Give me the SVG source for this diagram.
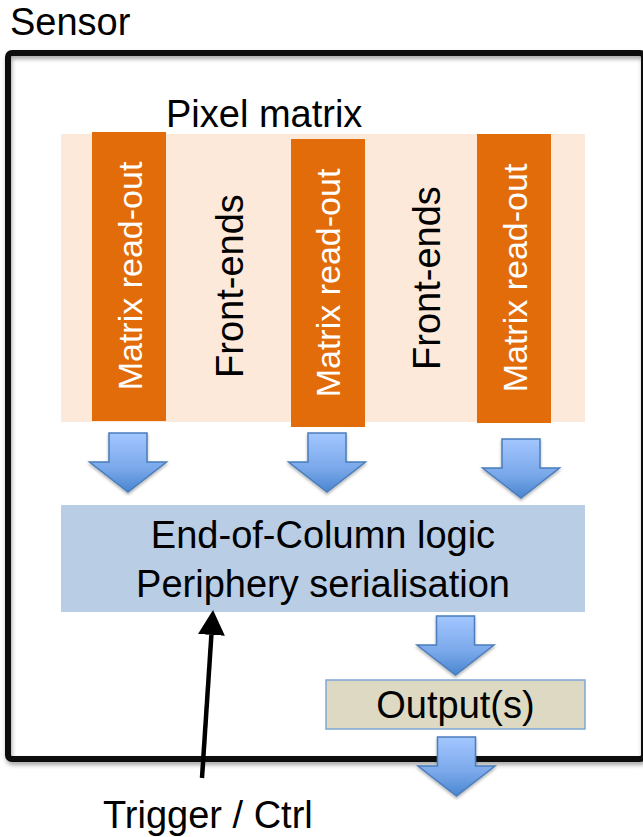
<svg xmlns="http://www.w3.org/2000/svg" width="643" height="837" viewBox="0 0 643 837">
  <defs>
    <style>
      .txt { font-family: "Liberation Sans", Arial, sans-serif; fill: #000; }
      .big { font-size: 38px; }
      .ro  { font-size: 34px; fill: #ffffff; }
      .readout { fill: #e36c0a; }
      .flow { fill: url(#arrowFill); stroke: #4a7ebb; stroke-width: 1.5; filter: url(#softShadow); }
    </style>
    <linearGradient id="arrowFill" x1="0" y1="0" x2="0" y2="1">
      <stop offset="0" stop-color="#a3c6ff"/>
      <stop offset="0.6" stop-color="#7aa8ea"/>
      <stop offset="1" stop-color="#4a86d0"/>
    </linearGradient>
    <filter id="softShadow" x="-20%" y="-20%" width="140%" height="150%">
      <feDropShadow dx="0" dy="2" stdDeviation="1.5" flood-color="#000" flood-opacity="0.3"/>
    </filter>
    <filter id="frameShadow" x="-5%" y="-5%" width="110%" height="110%">
      <feDropShadow dx="1" dy="3" stdDeviation="2" flood-color="#000" flood-opacity="0.35"/>
    </filter>
    <!-- block arrow, origin at top centre of the shaft -->
    <path id="blockArrow" d="M -19 0 H 19 V 29 H 38.5 L 0 59 L -38.5 29 H -19 Z"/>
    <marker id="head" markerUnits="userSpaceOnUse" viewBox="0 0 25 27" refX="0" refY="13.5" markerWidth="25" markerHeight="27" orient="auto">
      <path d="M 0 0 L 25 13.5 L 0 27 Z" fill="#000"/>
    </marker>
  </defs>

  <rect width="643" height="837" fill="#ffffff"/>

  <!-- sensor outline -->
  <g id="sensor">
    <rect x="8" y="53" width="636" height="706" rx="4" fill="none" stroke="#0d0d0d" stroke-width="6" filter="url(#frameShadow)"/>
    <text class="txt big" x="10" y="35">Sensor</text>
  </g>

  <!-- pixel matrix with alternating read-out and front-end columns -->
  <g id="pixel-matrix">
    <text class="txt big" x="166" y="127">Pixel matrix</text>
    <rect x="61" y="134" width="524" height="288" fill="#fde9d9"/>
  </g>

  <g id="readout-1">
    <rect class="readout" x="92" y="132" width="74" height="289"/>
    <text class="txt ro" transform="translate(142 276) rotate(-90)" text-anchor="middle">Matrix read-out</text>
  </g>
  <g id="frontends-1">
    <text class="txt big" transform="translate(243 286) rotate(-90)" text-anchor="middle">Front-ends</text>
  </g>
  <g id="readout-2">
    <rect class="readout" x="291" y="139" width="74" height="288"/>
    <text class="txt ro" transform="translate(340 283) rotate(-90)" text-anchor="middle">Matrix read-out</text>
  </g>
  <g id="frontends-2">
    <text class="txt big" transform="translate(440 278) rotate(-90)" text-anchor="middle">Front-ends</text>
  </g>
  <g id="readout-3">
    <rect class="readout" x="477" y="134" width="74" height="289"/>
    <text class="txt ro" transform="translate(527 278) rotate(-90)" text-anchor="middle">Matrix read-out</text>
  </g>

  <!-- end-of-column / periphery -->
  <g id="periphery">
    <rect x="61" y="505" width="524" height="107" fill="#b9cde5"/>
    <text class="txt big" x="323" y="548" text-anchor="middle">End-of-Column logic</text>
    <text class="txt big" x="323" y="597" text-anchor="middle">Periphery serialisation</text>
  </g>

  <!-- outputs -->
  <g id="outputs">
    <rect x="326" y="680" width="259" height="49" fill="#ddd9c3" stroke="#7ea6d6" stroke-width="1.5"/>
    <text class="txt big" x="455.5" y="718" text-anchor="middle">Output(s)</text>
  </g>

  <g id="trigger">
    <text class="txt big" x="103" y="828">Trigger / Ctrl</text>
  </g>

  <!-- data flow and control connectors -->
  <g id="connectors">
    <use href="#blockArrow" class="flow" transform="translate(128 433)"/>
    <use href="#blockArrow" class="flow" transform="translate(327 433)"/>
    <use href="#blockArrow" class="flow" transform="translate(521 439)"/>
    <use href="#blockArrow" class="flow" transform="translate(455.5 616)"/>
    <use href="#blockArrow" class="flow" transform="translate(456.5 737)"/>
    <line x1="202" y1="778" x2="211.4" y2="634.9" stroke="#000" stroke-width="4.5" marker-end="url(#head)"/>
  </g>
</svg>
